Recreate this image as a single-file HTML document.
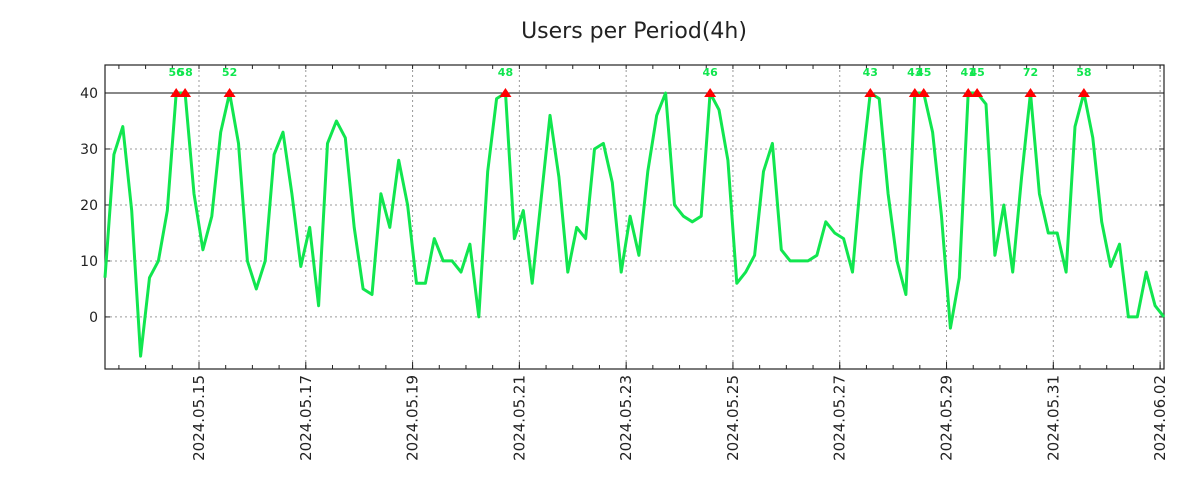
<!DOCTYPE html>
<html><head><meta charset="utf-8"><style>
html,body{margin:0;padding:0;background:#fff;}
svg{display:block;font-family:"DejaVu Sans","Liberation Sans",sans-serif;}
</style></head><body>
<svg id="chart" width="1200" height="500">
<text x="634" y="38" text-anchor="middle" font-size="22" fill="#222">Users per Period(4h)</text>
<g id="grid"></g><g id="axes"></g><g id="series"></g><g id="marks"></g>
</svg>
<script>
const values = [7,29,34,19,-7,7,10,19,56,58,
22,12,18,33,52,31,10,5,10,29,
33,22,9,16,2,31,35,32,16,5,
4,22,16,28,20,6,6,14,10,10,
8,13,0,26,39,48,14,19,6,21,
36,25,8,16,14,30,31,24,8,18,
11,26,36,40,20,18,17,18,46,37,
28,6,8,11,26,31,12,10,10,10,
11,17,15,14,8,26,43,39,22,10,
4,43,45,33,18,-2,7,41,45,38,
11,20,8,25,72,22,15,15,8,34,
58,32,17,9,13,0,0,8,2,0];
const yTicks = [0,10,20,30,40];
const dateLabels = ["2024.05.15","2024.05.17","2024.05.19","2024.05.21","2024.05.23","2024.05.25","2024.05.27","2024.05.29","2024.05.31","2024.06.02"];
const capValue = 40;
const startHoursBefore = 42.25; // first sample, hours before 2024.05.15 00:00
const stepHours = 4;

const L=105,R=1164,T=65,B=369;
const yMin=-9.3,yMax=45;
const y=v=>B-(v-yMin)/(yMax-yMin)*(B-T);
const pxPerHour=(R-L)/((values.length-1)*stepHours);
const xi=i=>L+i*stepHours*pxPerHour;
const xh=h=>L+(h+startHoursBefore)*pxPerHour; // hours since 05.15
const NS="http://www.w3.org/2000/svg";
function mk(tag,attrs,parent){const e=document.createElementNS(NS,tag);for(const k in attrs)e.setAttribute(k,attrs[k]);parent.appendChild(e);return e;}
const grid=document.getElementById('grid'),axes=document.getElementById('axes'),series=document.getElementById('series'),marks=document.getElementById('marks');

yTicks.forEach(t=>{
  const g=mk('line',{x1:L,x2:R,y1:y(t),y2:y(t),stroke:'#999','stroke-dasharray':'2,3'},grid);
  
  
  const tk=mk('line',{x1:L,x2:L+5,y1:y(t),y2:y(t),stroke:'#222'},axes);
  
  
  const tk2=mk('line',{x1:R-5,x2:R,y1:y(t),y2:y(t),stroke:'#222'},axes);
  
  
  const lb=mk('text',{x:L-7,y:y(t)+5,'text-anchor':'end','font-size':14,fill:'#222'},axes);
  lb.textContent=t;
  
  
});
// minor ticks every 12h
for(let h=-36;h<=18*24+12;h+=12){
  const x=xh(h); if(x<L||x>R)continue;
  const m=mk('line',{x1:x,x2:x,y1:B,y2:B-4,stroke:'#222'},axes);
  
  
  const m2=mk('line',{x1:x,x2:x,y1:T,y2:T+4,stroke:'#222'},axes);
  
  
}
dateLabels.forEach((d,i)=>{
  const x=xh(i*48);
  const g=mk('line',{x1:x,x2:x,y1:T,y2:B,stroke:'#999','stroke-dasharray':'2,3'},grid);
  
  
  const tk=mk('line',{x1:x,x2:x,y1:B,y2:B-7,stroke:'#222'},axes);
  
  
  const lb=mk('text',{x:0,y:0,'text-anchor':'end','font-size':15,fill:'#222',transform:`translate(${x+5},${B+6}) rotate(-90)`},axes);
  lb.textContent=d;
  
  
});
const frame=mk('rect',{x:L,y:T,width:R-L,height:B-T,fill:'none',stroke:'#222','stroke-width':1.2},axes);


const cap=mk('line',{x1:L,x2:R,y1:y(capValue),y2:y(capValue),stroke:'#111','stroke-width':1},axes);



const pts=values.map((v,i)=>xi(i).toFixed(1)+','+y(Math.min(v,capValue)).toFixed(1)).join(' ');
const line=mk('polyline',{points:pts,fill:'none',stroke:'#11e64f','stroke-width':3,'stroke-linejoin':'round'},series);



values.forEach((v,i)=>{
  if(v<=capValue)return;
  const x=xi(i),yy=y(capValue);
  const tri=mk('polygon',{points:`${x-6},${yy+4} ${x+6},${yy+4} ${x},${yy-5}`,fill:'#f00'},marks);
  
  
  const lb=mk('text',{x:x,y:T+11,'text-anchor':'middle','font-size':11,'font-weight':'bold',fill:'#11e64f'},marks);
  lb.textContent=v;
  
  
});
</script>
</body></html>
